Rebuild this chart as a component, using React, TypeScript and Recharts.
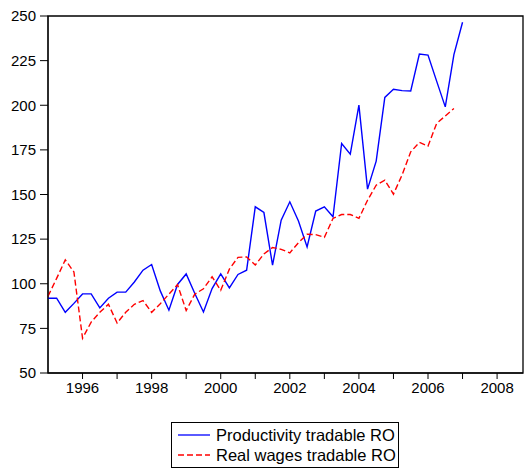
import React from 'react';
import { LineChart, Line, XAxis, YAxis, ReferenceArea, Legend } from 'recharts';

// Quarterly observations starting 1995Q1
const startYear = 1995;
const productivity = [
  91.9, 91.9, 84.0, 89.0, 94.3, 94.3, 86.5, 91.9, 95.3, 95.3, 101.0, 107.6,
  110.8, 96.0, 85.2, 99.6, 105.5, 94.5, 84.2, 97.3, 105.5, 97.7, 105.2, 107.6,
  143.1, 139.9, 110.4, 135.6, 145.9, 135.2, 120.6, 140.7, 143.1, 137.5, 178.6, 172.6,
  200.1, 153.0, 168.7, 204.4, 209.0, 208.2, 208.0, 228.7, 228.1, 213.5, 199.1, 228.4,
  246.5,
];
const realWages = [
  93.0, 103.0, 113.4, 106.6, 69.5, 78.5, 84.0, 88.5, 78.0, 84.0, 88.5, 90.6,
  84.0, 88.8, 94.2, 99.5, 85.0, 94.2, 97.2, 103.9, 96.3, 108.2, 114.8, 115.0,
  110.5, 116.7, 120.3, 119.3, 117.3, 123.0, 127.7, 127.5, 126.0, 136.6, 138.8, 138.8,
  136.6, 146.8, 155.2, 158.0, 150.2, 161.0, 173.9, 179.2, 177.1, 189.8, 194.0, 198.2,
];
const xTickQuarters = [4, 8, 12, 16, 20, 24, 28, 32, 36, 40, 44, 48, 52];
const yTicks = [50, 75, 100, 125, 150, 175, 200, 225, 250];
const seriesNames = ['Productivity tradable RO', 'Real wages tradable RO'];

const data = productivity.map((p, i) => ({
  q: i,
  prod: p,
  wage: i < realWages.length ? realWages[i] : null,
}));

const font = '"Liberation Sans", Arial, sans-serif';

const LegendBox = () => (
  <div
    style={{
      border: '1px solid #000',
      background: '#fff',
      width: 228,
      height: 46,
      boxSizing: 'border-box',
      fontFamily: font,
      fontSize: 16.5,
      color: '#000',
      paddingTop: 2,
      whiteSpace: 'nowrap',
    }}
  >
    {seriesNames.map((n, k) => (
      <div key={n} style={{ display: 'flex', alignItems: 'center', height: 20, paddingLeft: 6 }}>
        <svg width={32} height={10} style={{ marginRight: 6, flex: 'none' }}>
          <line
            x1={0}
            y1={5}
            x2={32}
            y2={5}
            stroke={k === 0 ? '#0000ff' : '#ff0000'}
            strokeWidth={1.3}
            strokeDasharray={k === 0 ? undefined : '6 3'}
          />
        </svg>
        <span>{n}</span>
      </div>
    ))}
  </div>
);

export default function App() {
  return (
    <div style={{ position: 'absolute', left: 0, top: 0, background: '#fff' }}>
      <LineChart width={530} height={470} data={data} margin={{ top: 16, right: 7, left: 0, bottom: 67 }}>
        <XAxis
          dataKey="q"
          type="number"
          domain={[0, 55]}
          ticks={xTickQuarters}
          tickFormatter={(t: number) => (t % 8 === 4 ? String(startYear + t / 4) : '')}
          interval={0}
          height={30}
          stroke="#000"
          tickSize={6}
          tickMargin={3}
          tick={{ fill: '#000', fontSize: 15, fontFamily: font }}
        />
        <YAxis
          type="number"
          domain={[50, 250]}
          ticks={yTicks}
          interval={0}
          width={48}
          stroke="#000"
          tickSize={8}
          tickMargin={4}
          tick={{ fill: '#000', fontSize: 15, fontFamily: font }}
        />
        <ReferenceArea x1={0} x2={55} y1={50} y2={250} fill="none" stroke="#000" strokeWidth={1.3} />
        <Line
          type="linear"
          dataKey="prod"
          name={seriesNames[0]}
          stroke="#0000ff"
          strokeWidth={1.4}
          dot={false}
          isAnimationActive={false}
        />
        <Line
          type="linear"
          dataKey="wage"
          name={seriesNames[1]}
          stroke="#ff0000"
          strokeWidth={1.4}
          strokeDasharray="6 3"
          dot={false}
          connectNulls={false}
          isAnimationActive={false}
        />
        <Legend
          layout="vertical"
          align="center"
          verticalAlign="middle"
          content={() => <LegendBox />}
          wrapperStyle={{ position: 'absolute', left: 171, top: 422, width: 228, height: 46 }}
        />
      </LineChart>
    </div>
  );
}
